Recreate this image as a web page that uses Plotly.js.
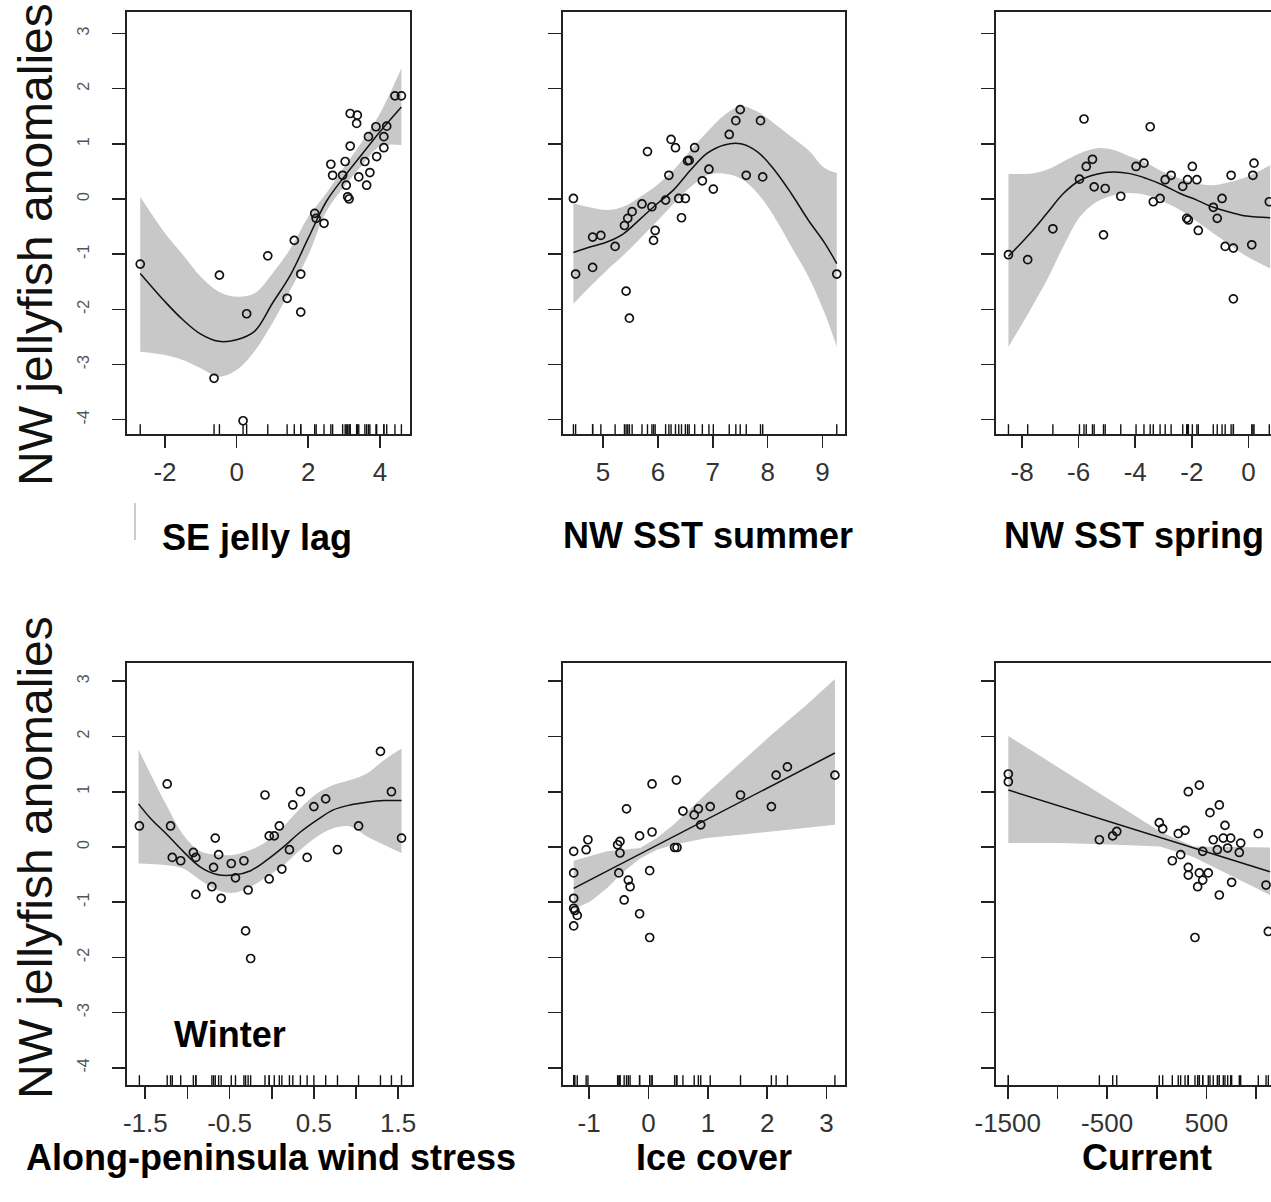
<!DOCTYPE html>
<html><head><meta charset="utf-8">
<script src="https://cdn.plot.ly/plotly-3.0.1.min.js"></script>
<style>html,body{margin:0;padding:0;background:#fff}#chart{width:1271px;height:1202px}</style>
</head><body><div id="chart"></div>
<script>
// ---------- Panel 1: SE jelly lag ----------
const p1x = [-2.69,-0.48,-0.63,0.18,0.28,0.87,1.41,1.61,1.79,1.79,2.18,2.22,2.44,2.63,2.68,3.03,2.96,3.06,3.10,3.14,3.17,3.17,3.37,3.35,3.41,3.63,3.58,3.72,3.68,3.91,3.89,4.11,4.11,4.19,4.42,4.60];
const p1y = [-1.18,-1.38,-3.25,-4.02,-2.08,-1.03,-1.80,-0.75,-1.36,-2.05,-0.26,-0.35,-0.44,0.63,0.43,0.68,0.43,0.25,0.04,0.00,0.96,1.55,1.52,1.37,0.40,0.25,0.68,0.48,1.13,0.77,1.31,0.93,1.13,1.32,1.87,1.87];
const f1x = [-2.69,-2,-1.5,-1,-0.5,0,0.5,1,1.5,2,2.5,3,3.5,4,4.6];
const f1y = [-1.35,-1.86,-2.19,-2.45,-2.58,-2.55,-2.40,-1.89,-1.38,-0.71,-0.05,0.40,0.81,1.22,1.67];
const b1u = [0.04,-0.62,-1.01,-1.41,-1.68,-1.77,-1.71,-1.35,-0.90,-0.32,0.10,0.58,1.04,1.55,2.37];
const b1l = [-2.77,-2.83,-2.92,-3.07,-3.22,-3.10,-2.76,-2.25,-1.65,-1.02,-0.23,0.22,0.61,0.95,0.98];

// ---------- Panel 2: NW SST summer ----------
const p2x = [4.46,4.50,4.81,4.96,4.81,5.22,5.39,5.45,5.53,5.42,5.48,5.71,5.81,5.89,5.95,5.92,6.14,6.20,6.24,6.32,6.38,6.50,6.43,6.54,6.57,6.67,6.81,6.93,7.01,7.30,7.42,7.50,7.61,7.87,7.91,9.26];
const p2y = [0.01,-1.36,-0.69,-0.66,-1.24,-0.86,-0.48,-0.35,-0.23,-1.67,-2.16,-0.09,0.86,-0.14,-0.57,-0.75,-0.02,0.43,1.08,0.93,0.01,0.01,-0.34,0.69,0.70,0.93,0.33,0.54,0.18,1.17,1.42,1.62,0.43,1.42,0.40,-1.36];
const f2x = [4.46,4.76,5.07,5.37,5.68,5.98,6.29,6.60,6.90,7.21,7.51,7.82,8.12,8.43,8.74,9.04,9.26];
const f2y = [-0.97,-0.87,-0.78,-0.63,-0.36,-0.09,0.17,0.53,0.83,0.98,1.00,0.85,0.53,0.10,-0.38,-0.80,-1.17];
const b2u = [-0.08,-0.15,-0.20,-0.14,0.04,0.25,0.53,0.89,1.22,1.52,1.68,1.58,1.37,1.13,0.89,0.56,0.47];
const b2l = [-1.90,-1.59,-1.29,-1.02,-0.71,-0.41,-0.08,0.22,0.43,0.46,0.37,0.10,-0.32,-0.86,-1.40,-2.07,-2.68];

// ---------- Panel 3: NW SST spring ----------
const p3x = [-8.48,-7.80,-6.91,-5.81,-5.97,-5.73,-5.51,-5.45,-5.06,-5.12,-4.51,-3.97,-3.69,-3.47,-3.36,-3.12,-2.94,-2.73,-2.32,-2.15,-1.98,-1.82,-2.18,-2.12,-1.77,-1.24,-1.10,-0.93,-0.82,-0.53,-0.53,-0.61,0.12,0.16,0.20,0.74];
const p3y = [-1.01,-1.10,-0.54,1.45,0.36,0.59,0.72,0.22,0.19,-0.65,0.05,0.59,0.65,1.31,-0.05,0.01,0.35,0.43,0.23,0.35,0.59,0.35,-0.35,-0.38,-0.57,-0.15,-0.35,0.01,-0.86,-0.89,-1.81,0.43,-0.83,0.43,0.65,-0.05];
const f3x = [-8.48,-7.71,-7.12,-6.54,-5.95,-5.36,-4.77,-4.18,-3.59,-3.00,-2.41,-1.82,-1.24,-0.65,-0.06,0.77];
const f3y = [-1.04,-0.62,-0.26,0.10,0.34,0.45,0.49,0.46,0.37,0.25,0.10,-0.02,-0.15,-0.24,-0.31,-0.34];
const b3u = [0.46,0.46,0.53,0.68,0.83,0.92,0.89,0.77,0.65,0.49,0.37,0.28,0.25,0.31,0.40,0.61];
const b3l = [-2.68,-2.01,-1.47,-0.86,-0.32,-0.05,0.07,0.11,0.07,-0.05,-0.20,-0.41,-0.62,-0.83,-1.04,-1.26];

// ---------- Panel 4: Along-peninsula wind stress (Winter) ----------
const p4x = [-1.57,-1.24,-1.20,-1.18,-1.08,-0.93,-0.90,-0.90,-0.67,-0.69,-0.63,-0.71,-0.60,-0.48,-0.43,-0.33,-0.28,-0.31,-0.25,-0.08,-0.03,-0.03,0.03,0.09,0.12,0.21,0.25,0.34,0.42,0.50,0.64,0.78,1.03,1.29,1.42,1.54];
const p4y = [0.38,1.14,0.38,-0.19,-0.25,-0.10,-0.19,-0.86,0.16,-0.37,-0.14,-0.72,-0.93,-0.30,-0.56,-0.25,-0.78,-1.52,-2.02,0.94,-0.58,0.20,0.20,0.38,-0.40,-0.05,0.76,1.00,-0.19,0.73,0.87,-0.05,0.38,1.73,1.00,0.16];
const f4x = [-1.58,-1.44,-1.24,-1.05,-0.85,-0.65,-0.45,-0.25,-0.06,0.14,0.34,0.54,0.73,0.93,1.13,1.33,1.54];
const f4y = [0.78,0.52,0.22,-0.08,-0.36,-0.50,-0.51,-0.43,-0.24,0.00,0.27,0.49,0.67,0.76,0.81,0.84,0.84];
const b4u = [1.76,1.33,0.73,0.22,-0.08,-0.14,-0.14,-0.05,0.10,0.37,0.70,0.97,1.12,1.21,1.33,1.57,1.78];
const b4l = [-0.30,-0.31,-0.33,-0.39,-0.60,-0.78,-0.83,-0.72,-0.54,-0.33,-0.05,0.19,0.34,0.37,0.19,0.04,-0.11];

// ---------- Panel 5: Ice cover ----------
const p5x = [-1.26,-1.26,-1.26,-1.26,-1.24,-1.20,-1.26,-1.05,-1.02,-0.50,-0.52,-0.48,-0.48,-0.41,-0.37,-0.34,-0.31,-0.15,-0.15,0.02,0.06,0.06,0.02,0.44,0.48,0.47,0.58,0.77,0.84,0.88,1.04,1.55,2.07,2.15,2.34,3.14];
const p5y = [-0.08,-0.47,-0.93,-1.11,-1.15,-1.24,-1.43,-0.05,0.13,-0.47,0.04,0.10,-0.11,-0.96,0.69,-0.60,-0.72,0.20,-1.21,-0.43,1.14,0.27,-1.64,-0.01,-0.01,1.21,0.65,0.58,0.69,0.40,0.73,0.94,0.73,1.30,1.45,1.30];
const f5x = [-1.26,0,1,2,3.14];
const f5y = [-0.75,-0.05,0.51,1.06,1.70];
const b5x = [-1.26,-0.98,-0.70,-0.42,-0.14,0.14,0.42,0.98,1.54,2.10,2.66,3.14];
const b5u = [-0.25,-0.16,-0.08,-0.05,-0.02,0.16,0.40,0.97,1.51,2.06,2.57,3.04];
const b5l = [-1.13,-0.99,-0.75,-0.45,-0.21,-0.05,0.04,0.16,0.22,0.28,0.34,0.40];

// ---------- Panel 6: Current ----------
const p6x = [-1494,-1494,-578,-444,-403,25,59,156,216,240,284,317,317,317,384,411,428,428,462,462,518,535,568,609,629,629,686,669,713,743,753,830,844,1021,1099,1122];
const p6y = [1.32,1.18,0.13,0.20,0.28,0.44,0.33,-0.25,0.24,-0.14,0.30,1.00,-0.37,-0.51,-1.64,-0.72,1.12,-0.47,-0.60,-0.08,-0.47,0.62,0.13,-0.05,0.76,-0.87,0.39,0.16,-0.02,0.16,-0.64,-0.10,0.07,0.24,-0.69,-1.53];
const f6x = [-1494,1139];
const f6y = [1.03,-0.45];
const b6x = [-1494,-974,-404,32,368,703,1139];
const b6u = [2.01,1.42,0.77,0.28,0.01,0.00,-0.01];
const b6l = [0.07,0.07,0.04,0.01,-0.18,-0.48,-0.87];

// ---------- Labels ----------
const panelTitles = ['SE jelly lag','NW SST summer','NW SST spring','Along-peninsula wind stress','Ice cover','Current'];
const yTitle = 'NW jellyfish anomalies';
const insideLabel = 'Winter';
const yTickVals = [-4,-3,-2,-1,0,1,2,3];
const yTickText = ['-4','-3','-2','-1','0','1','2','3'];
const xTicks1 = [-2,0,2,4], xText1 = ['-2','0','2','4'];
const xTicks2 = [5,6,7,8,9], xText2 = ['5','6','7','8','9'];
const xTicks3 = [-8,-6,-4,-2,0], xText3 = ['-8','-6','-4','-2','0'];
const xTicks4 = [-1.5,-1,-0.5,0,0.5,1,1.5], xText4 = ['-1.5','','-0.5','','0.5','','1.5'];
const xTicks5 = [-1,0,1,2,3], xText5 = ['-1','0','1','2','3'];
const xTicks6 = [-1500,-1000,-500,0,500,1000], xText6 = ['-1500','','-500','','500',''];

const W = 1271, H = 1202;
const row1 = [-4.26, 3.39], row2 = [-4.31, 3.33];
const panels = [
  {px:p1x,py:p1y,fx:f1x,fy:f1y,bx:f1x,bu:b1u,bl:b1l,xr:[-3.06,4.84],yr:row1,L:127,R:410,T:12,B:434,tv:xTicks1,tt:xText1,ylab:true,right:true,shape:'spline'},
  {px:p2x,py:p2y,fx:f2x,fy:f2y,bx:f2x,bu:b2u,bl:b2l,xr:[4.27,9.41],yr:row1,L:563,R:845,T:12,B:434,tv:xTicks2,tt:xText2,ylab:false,right:true,shape:'spline'},
  {px:p3x,py:p3y,fx:f3x,fy:f3y,bx:f3x,bu:b3u,bl:b3l,xr:[-8.92,0.80],yr:row1,L:996,R:1271,T:12,B:434,tv:xTicks3,tt:xText3,ylab:false,right:false,shape:'spline'},
  {px:p4x,py:p4y,fx:f4x,fy:f4y,bx:f4x,bu:b4u,bl:b4l,xr:[-1.717,1.664],yr:row2,L:127,R:412,T:663,B:1085,tv:xTicks4,tt:xText4,ylab:true,right:true,shape:'spline'},
  {px:p5x,py:p5y,fx:f5x,fy:f5y,bx:b5x,bu:b5u,bl:b5l,xr:[-1.44,3.31],yr:row2,L:563,R:845,T:663,B:1085,tv:xTicks5,tt:xText5,ylab:false,right:true,shape:'linear'},
  {px:p6x,py:p6y,fx:f6x,fy:f6y,bx:b6x,bu:b6u,bl:b6l,xr:[-1618,1149],yr:row2,L:996,R:1271,T:663,B:1085,tv:xTicks6,tt:xText6,ylab:false,right:false,shape:'linear'}
];

const FONT = 'Liberation Sans, Arial, sans-serif';
const traces = [];
const layout = {
  width: W, height: H, margin:{l:0,r:0,t:0,b:0}, autosize:false,
  paper_bgcolor:'#fff', plot_bgcolor:'#fff', showlegend:false,
  annotations:[], shapes:[]
};

panels.forEach((p,i)=>{
  const n = i===0 ? '' : String(i+1);
  const xa = 'x'+n, ya = 'y'+n;
  traces.push({x:p.bx,y:p.bu,xaxis:xa,yaxis:ya,mode:'lines',line:{width:0,shape:p.shape,color:'rgba(0,0,0,0)'},hoverinfo:'skip'});
  traces.push({x:p.bx,y:p.bl,xaxis:xa,yaxis:ya,mode:'lines',line:{width:0,shape:p.shape,color:'rgba(0,0,0,0)'},fill:'tonexty',fillcolor:'#c8c8c8',hoverinfo:'skip'});
  traces.push({x:p.fx,y:p.fy,xaxis:xa,yaxis:ya,mode:'lines',line:{width:1.5,color:'#111',shape:p.shape}});
  traces.push({x:p.px,y:p.py,xaxis:xa,yaxis:ya,mode:'markers',marker:{symbol:'circle-open',size:8,color:'#111',line:{width:1.7,color:'#111'}}});
  traces.push({x:p.px,y:p.px.map(()=>p.yr[0]),xaxis:xa,yaxis:ya,mode:'markers',cliponaxis:true,hoverinfo:'skip',
               marker:{symbol:'line-ns',size:14,color:'#111',line:{width:1.4,color:'#111'}}});
  layout['xaxis'+n] = {
    domain:[p.L/W, p.R/W], range:p.xr, anchor:ya, showgrid:false, zeroline:false,
    showline:true, linecolor:'#222', linewidth:1.8, mirror:true,
    ticks:'outside', ticklen:12, tickwidth:1.6, tickcolor:'#222',
    tickmode:'array', tickvals:p.tv, ticktext:p.tt, ticklabelstandoff:2,
    tickfont:{family:FONT,size:26,color:'#333'}
  };
  layout['yaxis'+n] = {
    domain:[1-p.B/H, 1-p.T/H], range:p.yr, anchor:xa, showgrid:false, zeroline:false,
    showline:true, linecolor:'#222', linewidth:1.8, mirror:p.right,
    ticks:'outside', ticklen:13, tickwidth:1.6, tickcolor:'#222',
    tickmode:'array', tickvals:yTickVals, ticktext:yTickText, tickangle:-90,
    showticklabels:p.ylab, ticklabelstandoff:17,
    tickfont:{family:FONT,size:16,color:'#555'}
  };
});

// y titles
[245, 858].forEach(cy=>{
  layout.annotations.push({text:yTitle, xref:'paper', yref:'paper', x:35/W, y:1-cy/H, xanchor:'center', yanchor:'middle',
    textangle:-90, showarrow:false, font:{family:FONT,size:48,color:'#111'}});
});
// panel titles
const titlePos = [[257,537],[708,535],[1134,535],[271,1157],[714,1157],[1147,1157]];
panelTitles.forEach((t,i)=>{
  layout.annotations.push({text:'<b>'+t+'</b>', xref:'paper', yref:'paper', x:titlePos[i][0]/W, y:1-titlePos[i][1]/H,
    xanchor:'center', yanchor:'middle', showarrow:false, font:{family:FONT,size:36,color:'#000'}});
});
layout.annotations.push({text:'<b>'+insideLabel+'</b>', xref:'paper', yref:'paper', x:230/W, y:1-1034/H,
  xanchor:'center', yanchor:'middle', showarrow:false, font:{family:FONT,size:36,color:'#000'}});
// small stray mark near first title
layout.shapes.push({type:'line', xref:'paper', yref:'paper', x0:135/W, x1:135/W, y0:1-503/H, y1:1-540/H, line:{color:'#999',width:1}});

Plotly.newPlot('chart', traces, layout, {displayModeBar:false, staticPlot:true});
</script></body></html>
